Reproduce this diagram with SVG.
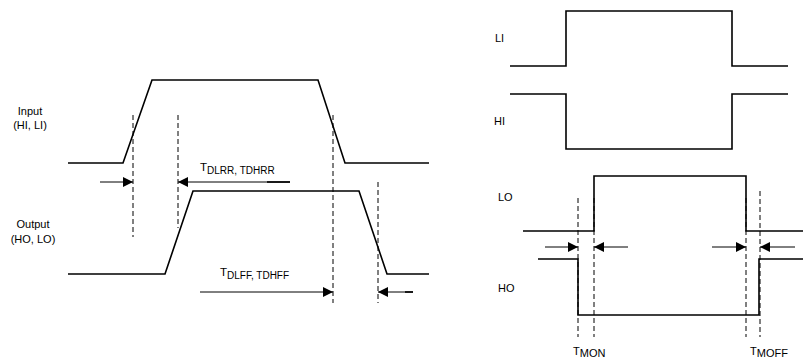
<svg xmlns="http://www.w3.org/2000/svg" width="804" height="358" viewBox="0 0 804 358">
<defs>
<marker id="ah" viewBox="0 0 10 10" refX="10" refY="5" markerWidth="10" markerHeight="10" markerUnits="userSpaceOnUse" orient="auto"><path d="M0,0 L10,5 L0,10 Z" fill="#000"/></marker>
<style>
.w{fill:none;stroke:#000;stroke-width:1.6;stroke-linejoin:miter}
.d{fill:none;stroke:#000;stroke-width:1;stroke-dasharray:5,3}
.a{fill:none;stroke:#000;stroke-width:1;marker-end:url(#ah)}
text{font-family:"Liberation Sans",Arial,sans-serif;font-size:11px;fill:#000}
.t{font-size:11.5px}
.s{font-size:10px}
.s2{font-size:11px}
</style>
</defs>
<g id="left-labels">
<text x="30" y="115" text-anchor="middle">Input</text>
<text x="30" y="129" text-anchor="middle">(HI, LI)</text>
<text x="33" y="228" text-anchor="middle">Output</text>
<text x="33" y="243" text-anchor="middle">(HO, LO)</text>
</g>
<g id="input-wave"><polyline class="w" points="68,163 123,163 152,80 318,80 345,163 429,163"/></g>
<g id="output-wave"><polyline class="w" points="68,274 165,274 193,191 359,191 387,274 429,274"/></g>
<g id="connectors">
<line class="d" x1="133" y1="115" x2="133" y2="237"/>
<line class="d" x1="178" y1="115" x2="178" y2="228"/>
<line class="d" x1="333" y1="115" x2="333" y2="303"/>
<line class="d" x1="378" y1="182" x2="378" y2="303"/>
<line class="a" x1="100" y1="182" x2="133" y2="182"/>
<line class="a" x1="290" y1="182" x2="178" y2="182"/>
<line x1="267" y1="182" x2="290" y2="182" stroke="#000" stroke-width="1.6"/>
<line class="a" x1="200" y1="292" x2="333" y2="292"/>
<line class="a" x1="413" y1="292" x2="378" y2="292"/>
<line x1="405" y1="292" x2="413" y2="292" stroke="#000" stroke-width="1.6"/>
<line class="d" x1="578" y1="198" x2="578" y2="337"/>
<line class="d" x1="594" y1="198" x2="594" y2="337"/>
<line class="d" x1="746" y1="198" x2="746" y2="337"/>
<line class="d" x1="760" y1="191" x2="760" y2="337"/>
<line class="a" x1="545" y1="247" x2="578" y2="247"/>
<line class="a" x1="628" y1="247" x2="594" y2="247"/>
<line class="a" x1="712" y1="247" x2="746" y2="247"/>
<line class="a" x1="795" y1="247" x2="760" y2="247"/>
</g>
<g id="tdlrr-label"><text class="t" x="200" y="171">T<tspan class="s" dy="3">DLRR, TDHRR</tspan></text></g>
<g id="tdlff-label"><text class="t" x="220" y="276">T<tspan class="s" dy="3">DLFF, TDHFF</tspan></text></g>
<g id="li"><text x="495" y="42">LI</text><polyline class="w" points="510,66 566,66 566,11 732,11 732,66 788,66"/></g>
<g id="hi"><text x="494" y="125">HI</text><polyline class="w" points="510,94 566,94 566,149 732,149 732,94 788,94"/></g>
<g id="lo"><text x="498" y="201">LO</text><polyline class="w" points="523,231 594,231 594,176 746,176 746,231 803,231"/></g>
<g id="ho"><text x="498" y="292">HO</text><polyline class="w" points="538,259 578,259 578,315 759,315 759,259 803,259"/></g>
<g id="tmon"><text x="573" y="355">T<tspan class="s2" dy="2">MON</tspan></text></g>
<g id="tmoff"><text x="750" y="355">T<tspan class="s2" dy="2">MOFF</tspan></text></g>
</svg>
